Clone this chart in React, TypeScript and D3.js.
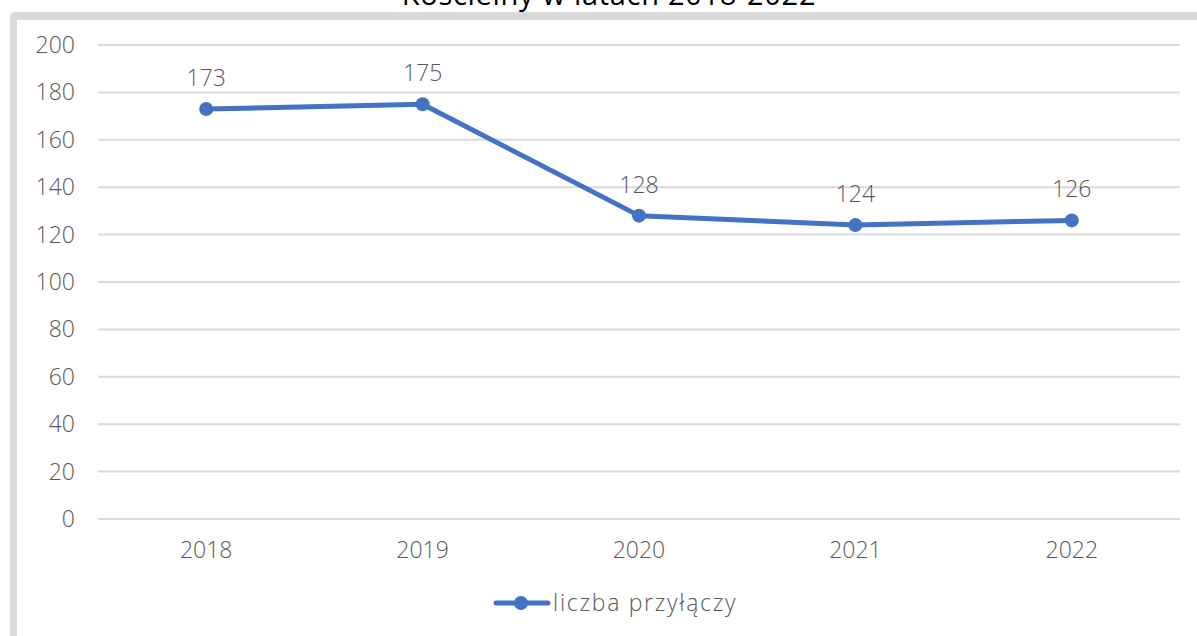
import React from "react";
import * as d3 from "d3";

const years = ["2018", "2019", "2020", "2021", "2022"];
const values = [173, 175, 128, 124, 126];
const yTicks = [0, 20, 40, 60, 80, 100, 120, 140, 160, 180, 200];
const seriesName = "liczba przyłączy";
const title = "Kościelny w latach 2018-2022";

const W = 1197;
const H = 636;
const FONT = "'Open Sans', 'DejaVu Sans', sans-serif";
const GRAY = "#595959";
const BLUE = "#4472C4";
const FS = 23;

export default function App() {
  const x = d3.scaleBand<string>().domain(years).range([98, 1180]);
  const y = d3.scaleLinear().domain([0, 200]).range([519, 45]);
  const cx = (d: string) => (x(d) as number) + x.bandwidth() / 2;
  const line = d3
    .line<number>()
    .x((_, i) => cx(years[i]))
    .y((v) => y(v));

  return (
    <svg
      width={W}
      height={H}
      style={{ position: "absolute", left: 0, top: 0, background: "#fff" }}
    >
      <rect x={0} y={0} width={W} height={H} fill="#fff" />
      {/* frame */}
      <path
        d={`M10,${H} L10,18 Q10,12 16,12 L${W},12 L${W},20 L17,20 L17,${H} Z`}
        fill="#d9d9d9"
      />
      <text
        x={609}
        y={5}
        textAnchor="middle"
        fontFamily={FONT}
        fontSize={29}
        fontWeight={400}
        letterSpacing={0.7}
        fill="#000"
      >
        {title}
      </text>
      {yTicks.map((t) => (
        <g key={t}>
          <line
            x1={98}
            x2={1180}
            y1={y(t)}
            y2={y(t)}
            stroke="#d9d9d9"
            strokeWidth={2}
          />
          <text
            x={75}
            y={y(t)}
            dy="0.35em"
            textAnchor="end"
            fontFamily={FONT}
            fontSize={FS}
            fontWeight={300}
            fill={GRAY}
          >
            {t}
          </text>
        </g>
      ))}
      {years.map((yr) => (
        <text
          key={yr}
          x={cx(yr)}
          y={558}
          textAnchor="middle"
          fontFamily={FONT}
          fontSize={FS}
          fontWeight={300}
          fill={GRAY}
        >
          {yr}
        </text>
      ))}
      <path
        d={line(values) || ""}
        fill="none"
        stroke={BLUE}
        strokeWidth={5}
        strokeLinejoin="round"
        strokeLinecap="round"
      />
      {values.map((v, i) => (
        <g key={i}>
          <circle cx={cx(years[i])} cy={y(v)} r={7} fill={BLUE} />
          <text
            x={cx(years[i])}
            y={y(v) - 23}
            textAnchor="middle"
            fontFamily={FONT}
            fontSize={FS}
            fontWeight={300}
            fill={GRAY}
          >
            {v}
          </text>
        </g>
      ))}
      {/* legend */}
      <line
        x1={496}
        x2={548}
        y1={603}
        y2={603}
        stroke={BLUE}
        strokeWidth={5}
        strokeLinecap="round"
      />
      <circle cx={521} cy={603} r={7} fill={BLUE} />
      <text
        x={553}
        y={603}
        dy="0.35em"
        fontFamily={FONT}
        fontSize={FS}
        fontWeight={300}
        letterSpacing={1.7}
        fill={GRAY}
      >
        {seriesName}
      </text>
    </svg>
  );
}
